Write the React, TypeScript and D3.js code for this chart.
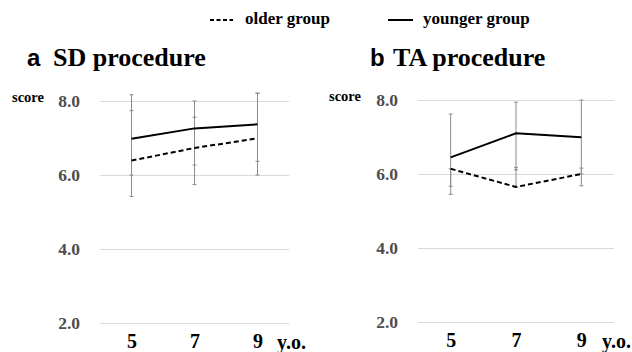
import { useEffect, useRef } from "react"
import * as d3 from "d3"

const ages = ["5", "7", "9"]
const yTicks = [2, 4, 6, 8]

// SD procedure
const sdYounger = [6.98, 7.26, 7.37]
const sdOlder = [6.39, 6.73, 6.99]
const sdYoungerHi = [8.17, 8.0, 8.21]
const sdYoungerLo = [6.0, 6.27, 6.37]
const sdOlderHi = [7.74, 7.56, 8.21]
const sdOlderLo = [5.42, 5.74, 6.0]

// TA procedure
const taYounger = [6.45, 7.1, 6.99]
const taOlder = [6.14, 5.65, 6.0]
const taYoungerHi = [7.62, 7.94, 8.0]
const taYoungerLo = [5.45, 6.11, 6.0]
const taOlderHi = [6.14, 6.18, 6.16]
const taOlderLo = [5.67, 5.65, 5.68]

const SERIF = "'Liberation Serif', 'Times New Roman', serif"
const SANS = "'Liberation Sans', Arial, sans-serif"

interface Panel {
  letter: string; title: string
  younger: number[]; older: number[]
  yHi: number[]; yLo: number[]; oHi: number[]; oLo: number[]
  x0: number; x1: number; yTop: number; yBot: number
  letterX: number; titleX: number; scoreX: number
}

const panels: Panel[] = [
  { letter: "a", title: "SD procedure", younger: sdYounger, older: sdOlder,
    yHi: sdYoungerHi, yLo: sdYoungerLo, oHi: sdOlderHi, oLo: sdOlderLo,
    x0: 100, x1: 289, yTop: 101, yBot: 323, letterX: 27, titleX: 53, scoreX: 12 },
  { letter: "b", title: "TA procedure", younger: taYounger, older: taOlder,
    yHi: taYoungerHi, yLo: taYoungerLo, oHi: taOlderHi, oLo: taOlderLo,
    x0: 418, x1: 614, yTop: 100, yBot: 322, letterX: 370, titleX: 393, scoreX: 329 },
]

export default function App() {
  const ref = useRef<SVGSVGElement>(null)
  useEffect(() => {
    if (!ref.current) return
    const svg = d3.select(ref.current)
    svg.selectAll("*").remove()
    svg.append("rect").attr("width", 632).attr("height", 352).attr("fill", "#fff")

    // legend
    const lg = svg.append("g")
    lg.append("line").attr("x1", 210).attr("x2", 233).attr("y1", 20).attr("y2", 20)
      .attr("stroke", "#000").attr("stroke-width", 2).attr("stroke-dasharray", "4,2.5")
    lg.append("text").attr("x", 245).attr("y", 24).text("older group")
    lg.append("line").attr("x1", 388).attr("x2", 413).attr("y1", 20).attr("y2", 20)
      .attr("stroke", "#000").attr("stroke-width", 2)
    lg.append("text").attr("x", 423).attr("y", 24).text("younger group")
    lg.selectAll("text").style("font-family", SERIF).style("font-weight", "bold").style("font-size", "17px")

    panels.forEach(p => {
      const x = d3.scalePoint().domain(ages).range([p.x0, p.x1]).padding(0.5)
      const y = d3.scaleLinear().domain([2, 8]).range([p.yBot, p.yTop])
      const g = svg.append("g")

      g.append("text").attr("x", p.letterX).attr("y", 66).text(p.letter)
        .style("font-family", SANS).style("font-weight", "bold").style("font-size", "24px")
      g.append("text").attr("x", p.titleX).attr("y", 66).text(p.title)
        .style("font-family", SERIF).style("font-weight", "bold").style("font-size", "26px")

      // grid + y ticks
      g.append("g").attr("transform", `translate(${p.x0},0)`)
        .call(d3.axisLeft(y).tickValues(yTicks).tickSize(-(p.x1 - p.x0)).tickPadding(20).tickFormat(d3.format(".1f")))
        .call(a => {
          a.select(".domain").remove()
          a.selectAll(".tick line").style("stroke", "#d9d9d9").style("stroke-width", 1)
          a.selectAll("text").style("fill", "#4d4d4d").style("font-family", SERIF)
            .style("font-weight", "bold").style("font-size", "17.5px")
        })
      g.append("text").attr("x", p.scoreX).attr("y", y(8) + 1).text("score")
        .style("font-family", SERIF).style("font-weight", "bold").style("font-size", "14.5px")

      // x labels
      g.append("g").attr("transform", `translate(0,${p.yBot + 11})`)
        .call(d3.axisBottom(x).tickSize(0).tickPadding(0))
        .call(a => {
          a.select(".domain").remove()
          a.selectAll("text").attr("dy", "0.71em").style("fill", "#000").style("font-family", SERIF)
            .style("font-weight", "bold").style("font-size", "20px")
        })
      g.append("text").attr("x", p.x1 - 12).attr("y", p.yBot + 26).text("y.o.")
        .style("font-family", SERIF).style("font-weight", "bold").style("font-size", "20px")

      // error bars
      const bars = [
        ...ages.map((a, i) => ({ a, hi: p.yHi[i], lo: p.yLo[i] })),
        ...ages.map((a, i) => ({ a, hi: p.oHi[i], lo: p.oLo[i] })),
      ]
      const eb = g.append("g").attr("stroke", "#8c8c8c").attr("stroke-width", 1)
      bars.forEach(b => {
        const cx = x(b.a)!
        eb.append("line").attr("x1", cx).attr("x2", cx).attr("y1", y(b.hi)).attr("y2", y(b.lo))
        eb.append("line").attr("x1", cx - 2).attr("x2", cx + 2).attr("y1", y(b.hi)).attr("y2", y(b.hi))
        eb.append("line").attr("x1", cx - 2).attr("x2", cx + 2).attr("y1", y(b.lo)).attr("y2", y(b.lo))
      })

      const line = d3.line<number>().x((_, i) => x(ages[i])!).y(d => y(d))
      g.append("path").attr("d", line(p.older)).attr("fill", "none").attr("stroke", "#000")
        .attr("stroke-width", 2).attr("stroke-dasharray", "5,3")
      g.append("path").attr("d", line(p.younger)).attr("fill", "none").attr("stroke", "#000")
        .attr("stroke-width", 2)
    })
  }, [])
  return <svg ref={ref} width={632} height={352} style={{ position: "absolute", left: 0, top: 0, display: "block" }} />
}
